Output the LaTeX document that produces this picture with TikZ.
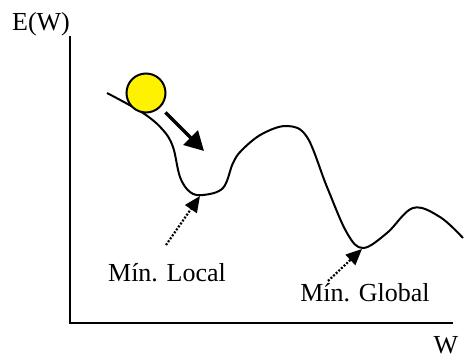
\documentclass[tikz,border=0pt]{standalone}
\usepackage{fontspec}
\setmainfont{Liberation Serif}
\usepackage{tikz}
\usetikzlibrary{positioning, arrows.meta}

\begin{document}
\begin{tikzpicture}[
  x=1pt, y=-1pt,
  lbl/.style={font=\fontsize{26}{30}\selectfont, inner sep=0pt},
  axis/.style={line width=1.6pt},
  curve/.style={line width=2pt},
  ball/.style={
    circle, draw, line width=2pt, fill=yellow,
    minimum size=39pt, inner sep=0pt
  },
  push/.style={-{Triangle[length=19pt,width=20pt]}, line width=3.5pt},
  dotarr/.style={-{Triangle[length=16pt,width=14pt]}, line width=2.2pt,
    dash pattern=on 2pt off 1.6pt},
]
\useasboundingbox (0,0) rectangle (464,358);

% Axes
\node[lbl] (elabel) at (41,24) {E(W)};
\node[lbl] (wlabel) at (446,345) {W};
\coordinate (org) at (70,323);
\coordinate (xmid) at (280,323);
\coordinate (xend) at (453,323);
\draw[axis] (org |- elabel.south) -- (org) -- (xmid);
\draw[line width=1.3pt] (xmid) -- (xend);

% Error surface
\draw[curve] plot[smooth, tension=0.6] coordinates {
  (107,93) (143,113) (163,130) (173,147) (180,177) (190,192) (203,195)
  (223,188) (233,163) (242,150) (262,134) (287,126) (307,137) (327,187)
  (347,233) (363,248) (387,233) (413,208) (440,217) (463,238)};

% Ball and its push
\node[ball] (ball) at (146,93) {};
\coordinate (roll) at (204,151);
\draw[push, shorten <=7pt] (ball) -- (roll);

% Minima
\coordinate (lmin) at (200,196);
\coordinate (gmin) at (362,249);
\node[lbl] (loclab) at (167,273) {Mín. Local};
\node[lbl] (glolab) at (365,293) {Mín. Global};
\coordinate (ltail) at (166,245);
\coordinate (gtail) at (328,281);
\draw[dotarr] (ltail) -- (lmin);
\draw[dotarr] (gtail) -- (gmin);
\end{tikzpicture}
\end{document}
